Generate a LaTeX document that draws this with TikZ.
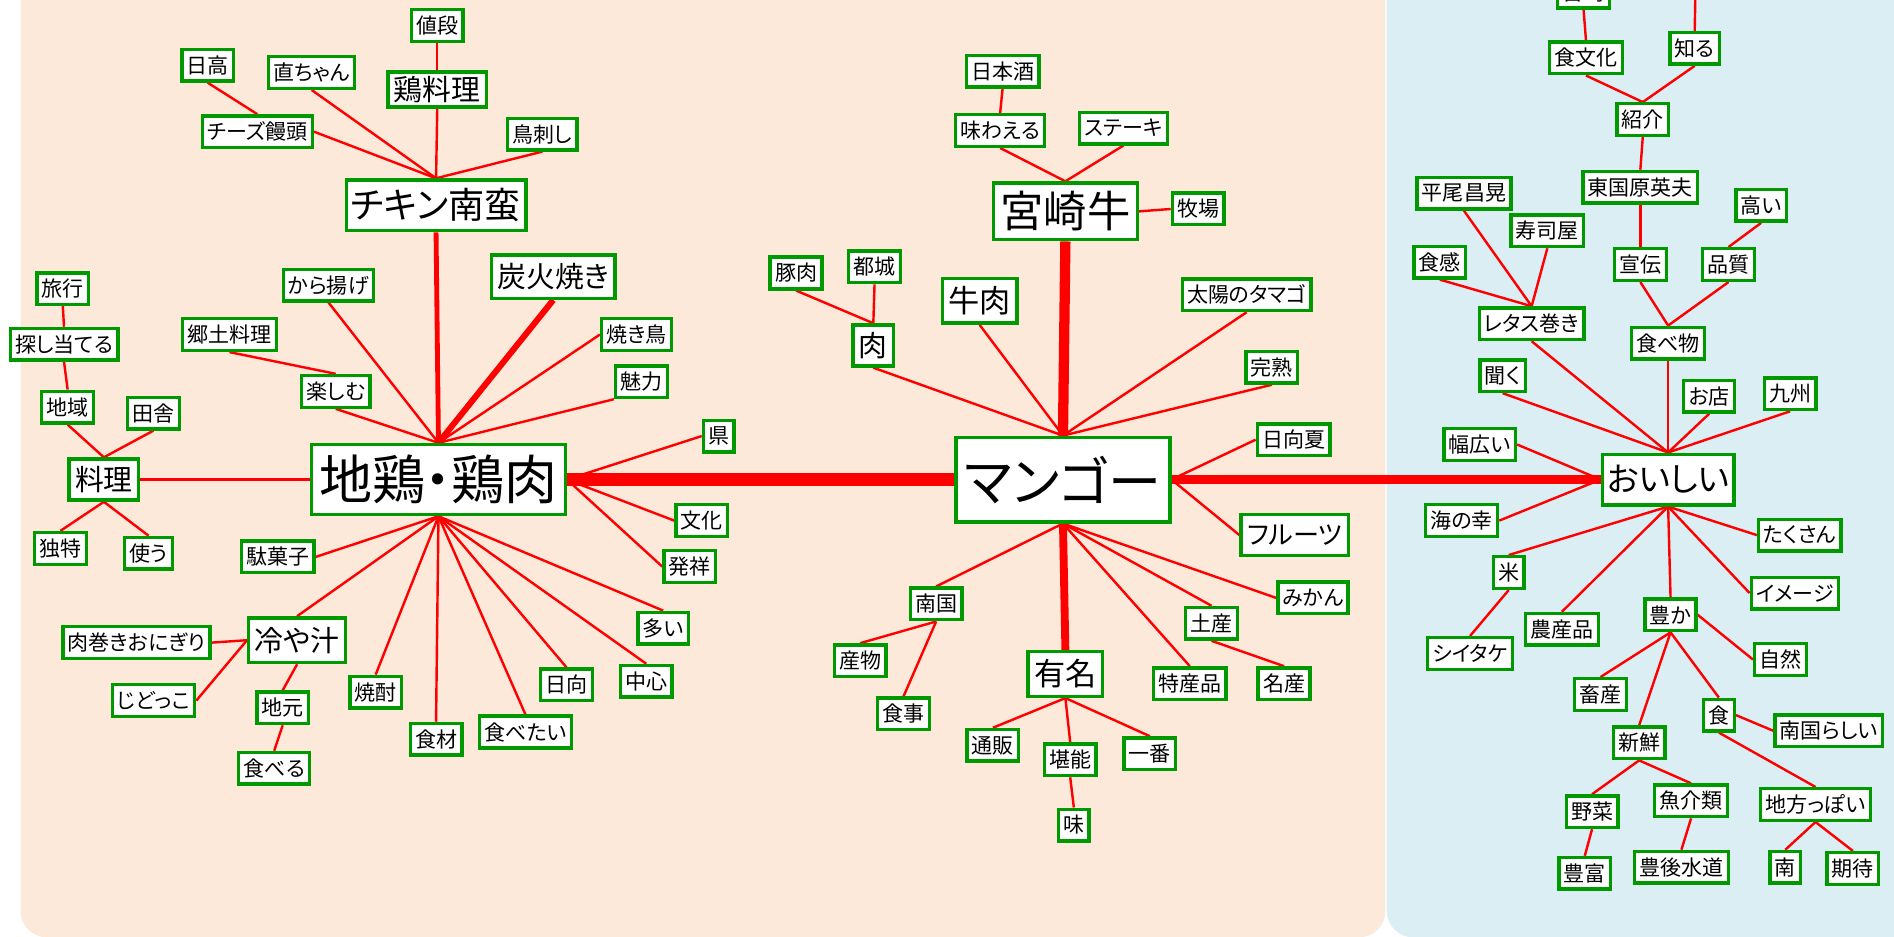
\documentclass[tikz,border=0pt]{standalone}
\usepackage{fontspec}
\setmainfont{Noto Sans CJK JP}[RawFeature={+palt}]
\definecolor{peach}{HTML}{FDE9D9}
\definecolor{paleblue}{HTML}{DAEEF3}
\definecolor{boxgreen}{HTML}{009900}
\pgfdeclarelayer{panel}
\pgfdeclarelayer{edges}
\pgfsetlayers{panel,edges,main}
\newcommand\fsz[1]{\fontsize{#1pt}{#1pt}\selectfont}
\tikzset{
  box/.style={draw=boxgreen, line width=0.056cm, fill=white, text=black,
    inner xsep=0.08cm, inner ysep=0pt, minimum height=0.524cm, font=\fsz{9.9}},
  bmid/.style={box, inner xsep=0.1cm, minimum height=0.68cm, font=\fsz{13.6}},
  bmidl/.style={box, inner xsep=0.1cm, minimum height=0.74cm, font=\fsz{14.7}},
  ln/.style={draw=red, line width=0.04cm},
  lnA/.style={draw=red, line width=0.08cm},
  lnB/.style={draw=red, line width=0.1cm},
  lnC/.style={draw=red, line width=0.13cm},
  lnD/.style={draw=red, line width=0.17cm},
  lnE/.style={draw=red, line width=0.15cm},
  lnF/.style={draw=red, line width=0.23cm},
}
\begin{document}
\begin{tikzpicture}[x=0.02cm,y=-0.02cm]
\useasboundingbox (0,0) rectangle (1568,775);
\begin{pgfonlayer}{panel}
\fill[white] (0,0) rectangle (1568,775);
\fill[peach, rounded corners=0.44cm] (17,-60) rectangle (1147,776);
\fill[paleblue, rounded corners=0.44cm] (1148,-60) rectangle (1650,776);
\end{pgfonlayer}

% ---------- left cluster ----------
\node[box, minimum height=1.16cm, minimum width=4.2cm, font=\fsz{25}] (jidori) at (363,397) {地鶏・鶏肉};
\node[box] (ryoko) at (52,239) {旅行};
\node[box] (sagashi) at (53,285) {探し当てる};
\node[box] (chiiki) at (56,337) {地域};
\node[box] (inaka) at (127,342) {田舎};
\node[bmid] (ryori) at (86,397) {料理};
\node[box] (dokutoku) at (50,454) {独特};
\node[box] (tsukau) at (123,458) {使う};
\node[box] (kyodo) at (190,277) {郷土料理};
\node[box] (tanoshimu) at (278,324) {楽しむ};
\node[box] (karaage) at (272,236) {から揚げ};
\node[box, minimum height=0.84cm, minimum width=2.94cm, font=\fsz{17}] (chikin) at (361,170) {チキン南蛮};
\node[bmid, minimum height=0.58cm] (toriryori) at (362,74) {鶏料理};
\node[box] (nedan) at (362,21) {値段};
\node[box] (hidaka) at (172,54) {日高};
\node[box] (naochan) at (258,60) {直ちゃん};
\node[box] (cheese) at (213,109) {チーズ饅頭};
\node[box] (torisashi) at (449,111) {鳥刺し};
\node[bmid, minimum height=0.72cm] (sumibi) at (458,229) {炭火焼き};
\node[box] (yakitori) at (527,277) {焼き鳥};
\node[box] (miryoku) at (531,316) {魅力};
\node[box] (ken) at (595,361) {県};
\node[box] (bunka) at (581,431) {文化};
\node[box] (hassho) at (571,469) {発祥};
\node[box] (ooi) at (549,520) {多い};
\node[box] (chushin) at (535,564) {中心};
\node[box] (hyuga) at (469,567) {日向};
\node[box] (tabetai) at (435,606) {食べたい};
\node[box] (shokuzai) at (361,612) {食材};
\node[box] (shochu) at (311,573) {焼酎};
\node[box] (dagashi) at (230,461) {駄菓子};
\node[bmid, minimum height=0.74cm] (hiyajiru) at (246,530) {冷や汁};
\node[box] (nikumaki) at (113,532) {肉巻きおにぎり};
\node[box] (jidokko) at (127,580) {じどっこ};
\node[box] (jimoto) at (234,586) {地元};
\node[box] (taberu) at (227,636) {食べる};

% ---------- middle cluster ----------
\node[box, minimum height=1.4cm, minimum width=3.54cm, font=\fsz{25}] (mango) at (880,397) {マンゴー};
\node[box, minimum height=0.94cm, minimum width=2.38cm, font=\fsz{20.4}] (miyazaki) at (882,175) {宮崎牛};
\node[box] (bokujo) at (992,173) {牧場};
\node[box] (ajiwaeru) at (828,108) {味わえる};
\node[box] (steak) at (930,106) {ステーキ};
\node[box] (nihonshu) at (830,59) {日本酒};
\node[bmidl] (gyuniku) at (811,249) {牛肉};
\node[bmid] (niku) at (723,286) {肉};
\node[box] (butaniku) at (659,226) {豚肉};
\node[box] (miyakonojo) at (724,221) {都城};
\node[box] (taiyo) at (1032,244) {太陽のタマゴ};
\node[box] (kanjuku) at (1053,304) {完熟};
\node[box] (hyuganatsu) at (1071,364) {日向夏};
\node[bmid, font=\fsz{12.3}] (fruits) at (1072,443) {フルーツ};
\node[box] (mikan) at (1087,495) {みかん};
\node[box] (miyage) at (1003,516) {土産};
\node[box] (meisan) at (1063,566) {名産};
\node[box] (tokusan) at (985,566) {特産品};
\node[bmidl] (yumei) at (882,558) {有名};
\node[box] (tsuhan) at (822,617) {通販};
\node[box] (tanno) at (886,629) {堪能};
\node[box] (ichiban) at (952,624) {一番};
\node[box] (aji) at (889,683) {味};
\node[box] (nangoku) at (775,500) {南国};
\node[box] (sanbutsu) at (712,547) {産物};
\node[box] (shokuji) at (748,591) {食事};

% ---------- right cluster ----------
\node[box, minimum height=0.84cm, minimum width=2.16cm, font=\fsz{15.6}] (oishii) at (1381,397) {おいしい};
\node[box] (habahiroi) at (1225,368) {幅広い};
\node[box] (uminosachi) at (1210,431) {海の幸};
\node[box] (kiku) at (1244,311) {聞く};
\node[box] (retasu) at (1268,268) {レタス巻き};
\node[box] (shokkan) at (1192,217) {食感};
\node[box] (hirao) at (1212,160) {平尾昌晃};
\node[box] (sushiya) at (1281,191) {寿司屋};
\node[box] (tabemono) at (1381,284) {食べ物};
\node[box] (senden) at (1358,219) {宣伝};
\node[box] (hinshitsu) at (1431,219) {品質};
\node[box] (takai) at (1458,170) {高い};
\node[box] (higashi) at (1358,155) {東国原英夫};
\node[box] (shokai) at (1360,99) {紹介};
\node[box] (shokubunka) at (1313,48) {食文化};
\node[box] (shiru) at (1403,40) {知る};
\node[box] (miyazakitop) at (1311,-6.5) {宮崎};
\coordinate (shiruup) at (1404,-30);
\node[box] (omise) at (1415,328) {お店};
\node[box] (kyushu) at (1482,326) {九州};
\node[box] (takusan) at (1490,443) {たくさん};
\node[box] (image) at (1486,491) {イメージ};
\node[box] (kome) at (1249,474) {米};
\node[box] (shiitake) at (1217,541) {シイタケ};
\node[box] (nosanhin) at (1293,521) {農産品};
\node[box] (yutaka) at (1383,509) {豊か};
\node[box] (shizen) at (1474,546) {自然};
\node[box] (chikusan) at (1325,575) {畜産};
\node[box] (shoku) at (1423,592) {食};
\node[box] (nangokurashii) at (1514,605) {南国らしい};
\node[box] (shinsen) at (1357,615) {新鮮};
\node[box] (yasai) at (1318,672) {野菜};
\node[box] (gyokai) at (1400,663) {魚介類};
\node[box] (hofu) at (1312,723) {豊富};
\node[box] (bungo) at (1392,718) {豊後水道};
\node[box] (chihoppoi) at (1503,666) {地方っぽい};
\node[box] (minami) at (1478,718) {南};
\node[box] (kitai) at (1534,719) {期待};

\begin{pgfonlayer}{edges}
% left
\draw[ln] (ryori.east) -- (jidori.west);
\draw[ln] (ryori.north) -- (chiiki.south);
\draw[ln] (ryori.north) -- (inaka.south);
\draw[ln] (ryori.south) -- (dokutoku.north);
\draw[ln] (ryori.south) -- (tsukau.north);
\draw[ln] (chiiki.north) -- (sagashi.south);
\draw[ln] (sagashi.north) -- (ryoko.south);
\draw[lnA] (jidori.north) -- (chikin.south);
\draw[lnB] (jidori.north) -- (sumibi.south);
\draw[ln] (jidori.north) -- (yakitori.west);
\draw[ln] (jidori.north) -- (miryoku.south west);
\draw[ln] (jidori.north) -- (karaage.south);
\draw[ln] (jidori.north) -- (tanoshimu.south);
\draw[ln] (kyodo.south) -- (tanoshimu.north);
\draw[ln] (chikin.north) -- (cheese.east);
\draw[ln] (chikin.north) -- (naochan.south);
\draw[ln] (chikin.north) -- (toriryori.south);
\draw[ln] (chikin.north) -- (torisashi.south);
\draw[ln] (toriryori.north) -- (nedan.south);
\draw[ln] (cheese.north) -- (hidaka.south);
\draw[ln] (jidori.east) -- (ken.west);
\draw[ln] (jidori.east) -- (bunka.west);
\draw[ln] (jidori.east) -- (hassho.west);
\draw[ln] (jidori.south) -- (dagashi.east);
\draw[ln] (jidori.south) -- (hiyajiru.north);
\draw[ln] (jidori.south) -- (shochu.north);
\draw[ln] (jidori.south) -- (shokuzai.north);
\draw[ln] (jidori.south) -- (tabetai.north);
\draw[ln] (jidori.south) -- (hyuga.north);
\draw[ln] (jidori.south) -- (chushin.north);
\draw[ln] (jidori.south) -- (ooi.north);
\draw[ln] (hiyajiru.west) -- (nikumaki.east);
\draw[ln] (hiyajiru.west) -- (jidokko.east);
\draw[ln] (hiyajiru.south) -- (jimoto.north);
\draw[ln] (jimoto.south) -- (taberu.north);
% hubs
\draw[lnF] (jidori.east) -- (mango.west);
\draw[lnE] (mango.east) -- (oishii.west);
% middle
\draw[ln] (mango.north) -- (niku.south);
\draw[ln] (mango.north) -- (gyuniku.south);
\draw[lnD] (mango.north) -- (miyazaki.south);
\draw[ln] (mango.north) -- (taiyo.south);
\draw[ln] (mango.north) -- (kanjuku.south);
\draw[ln] (mango.east) -- (hyuganatsu.west);
\draw[ln] (mango.east) -- (fruits.west);
\draw[ln] (mango.south) -- (nangoku.north);
\draw[lnC] (mango.south) -- (yumei.north);
\draw[ln] (mango.south) -- (tokusan.north);
\draw[ln] (mango.south) -- (miyage.north);
\draw[ln] (mango.south) -- (mikan.west);
\draw[ln] (yumei.south) -- (tsuhan.north);
\draw[ln] (yumei.south) -- (tanno.north);
\draw[ln] (yumei.south) -- (ichiban.north);
\draw[ln] (tanno.south) -- (aji.north);
\draw[ln] (nangoku.south) -- (sanbutsu.north);
\draw[ln] (nangoku.south) -- (shokuji.north);
\draw[ln] (miyage.south) -- (meisan.north);
\draw[ln] (miyazaki.north) -- (ajiwaeru.south);
\draw[ln] (miyazaki.north) -- (steak.south);
\draw[ln] (ajiwaeru.north) -- (nihonshu.south);
\draw[ln] (miyazaki.east) -- (bokujo.west);
\draw[ln] (niku.north) -- (butaniku.south);
\draw[ln] (niku.north) -- (miyakonojo.south);
% right
\draw[ln] (oishii.west) -- (habahiroi.east);
\draw[ln] (oishii.west) -- (uminosachi.east);
\draw[ln] (oishii.north) -- (kiku.south);
\draw[ln] (oishii.north) -- (retasu.south);
\draw[ln] (oishii.north) -- (tabemono.south);
\draw[ln] (oishii.north) -- (omise.south);
\draw[ln] (oishii.north) -- (kyushu.south);
\draw[ln] (oishii.south) -- (kome.north);
\draw[ln] (oishii.south) -- (nosanhin.north);
\draw[ln] (oishii.south) -- (yutaka.north);
\draw[ln] (oishii.south) -- (image.west);
\draw[ln] (oishii.south) -- (takusan.west);
\draw[ln] (retasu.north) -- (shokkan.south);
\draw[ln] (retasu.north) -- (hirao.south);
\draw[ln] (retasu.north) -- (sushiya.south);
\draw[ln] (tabemono.north) -- (senden.south);
\draw[ln] (tabemono.north) -- (hinshitsu.south);
\draw[ln] (hinshitsu.north) -- (takai.south);
\draw[ln] (senden.north) -- (higashi.south);
\draw[ln] (higashi.north) -- (shokai.south);
\draw[ln] (shokai.north) -- (shokubunka.south);
\draw[ln] (shokai.north) -- (shiru.south);
\draw[ln] (shokubunka.north) -- (miyazakitop.south);
\draw[ln] (shiru.north) -- (shiruup);
\draw[ln] (kome.south) -- (shiitake.north);
\draw[ln] (yutaka.south) -- (chikusan.north);
\draw[ln] (yutaka.south) -- (shinsen.north);
\draw[ln] (yutaka.south) -- (shoku.north);
\draw[ln] (yutaka.east) -- (shizen.west);
\draw[ln] (shoku.east) -- (nangokurashii.west);
\draw[ln] (shoku.south) -- (chihoppoi.north);
\draw[ln] (shinsen.south) -- (yasai.north);
\draw[ln] (shinsen.south) -- (gyokai.north);
\draw[ln] (yasai.south) -- (hofu.north);
\draw[ln] (gyokai.south) -- (bungo.north);
\draw[ln] (chihoppoi.south) -- (minami.north);
\draw[ln] (chihoppoi.south) -- (kitai.north);
\end{pgfonlayer}
\end{tikzpicture}
\end{document}
